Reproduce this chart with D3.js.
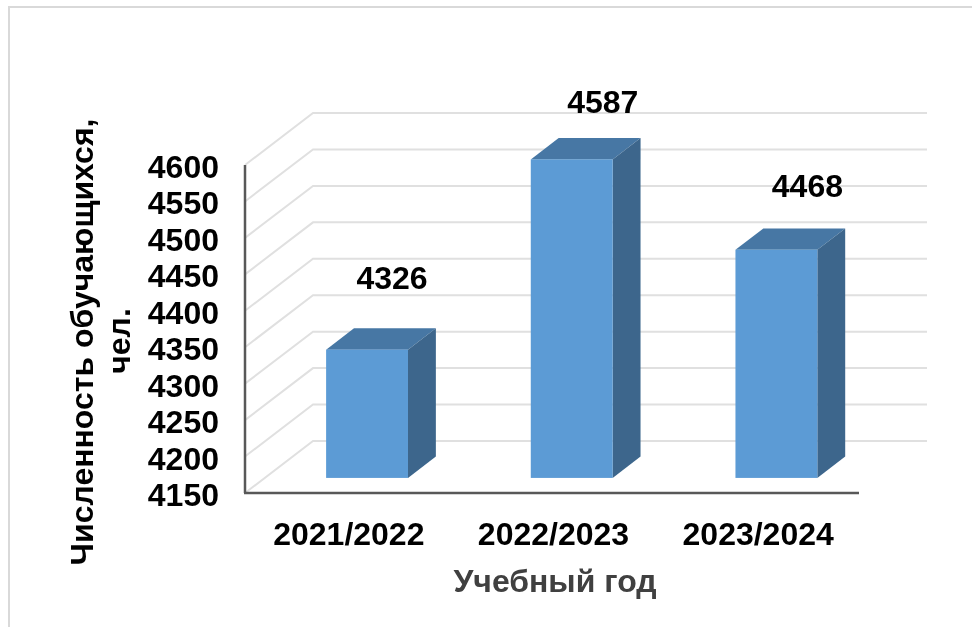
<!DOCTYPE html>
<html>
<head>
<meta charset="utf-8">
<script src="https://cdn.jsdelivr.net/npm/d3@7"></script>
<style>
  html, body { margin: 0; padding: 0; background: #fff; }
  text { font-family: "Liberation Sans", Arial, sans-serif; font-weight: bold; }
</style>
</head>
<body>
<div id="chart"></div>
<script>
// Chart data
const years = ["2021/2022", "2022/2023", "2023/2024"];
// Bar heights as drawn. The third bar sits a little lower than its printed label says.
const values = [4326, 4587, 4463];
const valueLabels = ["4326", "4587", "4468"];
const yTicks = [4150, 4200, 4250, 4300, 4350, 4400, 4450, 4500, 4550, 4600];

const width = 972;
const height = 627;
const fontSize = 32;

// Front plane of the 3D box, the back wall is shifted by depthX / depthY
const depthX = 68;
const depthY = 52;
// Bar front and back faces as a fraction of the depth
const barFront = 0.29;
const barBack = 0.70;

// Data labels were placed by hand in the original: shift from the bar's front top centre
const labelShiftX = [25, 31, 31];
const labelShiftY = [61, 46, 53];

const svg = d3.select("#chart")
    .append("svg")
    .attr("width", width)
    .attr("height", height)
    .style("display", "block");

// The reference is a slightly soft raster, so soften everything a touch
svg.append("defs")
    .append("filter")
    .attr("id", "soft")
    .attr("x", 0).attr("y", 0)
    .attr("width", 1).attr("height", 1)
    .attr("filterUnits", "userSpaceOnUse")
    .attr("width", width).attr("height", height)
    .append("feGaussianBlur")
    .attr("stdDeviation", 0.45);

const root = svg.append("g").attr("filter", "url(#soft)");

const x = d3.scaleBand()
    .domain(years)
    .range([245, 859])
    .paddingInner(0.6)
    .paddingOuter(0.3);

const y = d3.scaleLinear()
    .domain([4150, 4600])
    .range([493, 165]);

// Outer frame
root.append("path")
    .attr("d", `M9,${height} V7 H${width}`)
    .attr("fill", "none")
    .attr("stroke", "#d9d9d9")
    .attr("stroke-width", 2);

// Gridlines: along the side wall and along the back wall
const grid = root.append("g")
    .attr("fill", "none")
    .attr("stroke", "#e0e0e0")
    .attr("stroke-width", 2);

grid.selectAll("path")
    .data(yTicks)
    .enter().append("path")
    .attr("d", d => `M${x.range()[0]},${y(d)} L${x.range()[0] + depthX},${y(d) - depthY} H${x.range()[1] + depthX}`);

// Axes
const axes = root.append("g")
    .attr("fill", "none")
    .attr("stroke", "#595959")
    .attr("stroke-width", 2.5);

axes.append("line")
    .attr("x1", x.range()[0]).attr("x2", x.range()[0])
    .attr("y1", y(4600)).attr("y2", y(4150));

axes.append("line")
    .attr("x1", x.range()[0] - 1).attr("x2", x.range()[1])
    .attr("y1", y(4150)).attr("y2", y(4150));

// Bars
const bars = root.append("g")
    .selectAll("g")
    .data(years.map((year, i) => ({ year, value: values[i], label: valueLabels[i], i })))
    .enter().append("g");

const fx = d => x(d.year) + barFront * depthX;
const fy = v => y(v) - barFront * depthY;
const dx = (barBack - barFront) * depthX;
const dy = (barBack - barFront) * depthY;

// top face
bars.append("path")
    .attr("fill", "#4677a4")
    .attr("d", d => {
        const x0 = fx(d), x1 = x0 + x.bandwidth(), t = fy(d.value);
        return `M${x0},${t} L${x0 + dx},${t - dy} H${x1 + dx} L${x1},${t} Z`;
    });

// side face
bars.append("path")
    .attr("fill", "#3c668c")
    .attr("d", d => {
        const x1 = fx(d) + x.bandwidth(), t = fy(d.value), b = fy(4150);
        return `M${x1},${t} L${x1 + dx},${t - dy} V${b - dy} L${x1},${b} Z`;
    });

// front face
bars.append("rect")
    .attr("fill", "#5b9bd5")
    .attr("x", d => fx(d))
    .attr("y", d => fy(d.value))
    .attr("width", x.bandwidth())
    .attr("height", d => fy(4150) - fy(d.value));

// Data labels
bars.append("text")
    .attr("x", d => fx(d) + x.bandwidth() / 2 + labelShiftX[d.i])
    .attr("y", d => fy(d.value) - labelShiftY[d.i])
    .attr("text-anchor", "middle")
    .attr("font-size", fontSize)
    .attr("fill", "#000")
    .text(d => d.label);

// Y tick labels
root.append("g")
    .selectAll("text")
    .data(yTicks)
    .enter().append("text")
    .attr("x", 219)
    .attr("y", d => y(d) + 13)
    .attr("text-anchor", "end")
    .attr("font-size", fontSize)
    .attr("fill", "#000")
    .text(d => d);

// X tick labels
root.append("g")
    .selectAll("text")
    .data(years)
    .enter().append("text")
    .attr("x", d => x(d) + x.bandwidth() / 2 + 1.5)
    .attr("y", 545)
    .attr("text-anchor", "middle")
    .attr("font-size", fontSize)
    .attr("fill", "#000")
    .text(d => d);

// Axis titles
root.append("text")
    .attr("x", 555)
    .attr("y", 592)
    .attr("text-anchor", "middle")
    .attr("font-size", fontSize)
    .attr("fill", "#404040")
    .text("Учебный год");

root.append("text")
    .attr("transform", "translate(93,342) rotate(-90)")
    .attr("text-anchor", "middle")
    .attr("font-size", fontSize)
    .attr("fill", "#000")
    .text("Численность обучающихся,");

root.append("text")
    .attr("transform", "translate(130,341) rotate(-90)")
    .attr("text-anchor", "middle")
    .attr("font-size", fontSize)
    .attr("fill", "#000")
    .text("чел.");
</script>
</body>
</html>
